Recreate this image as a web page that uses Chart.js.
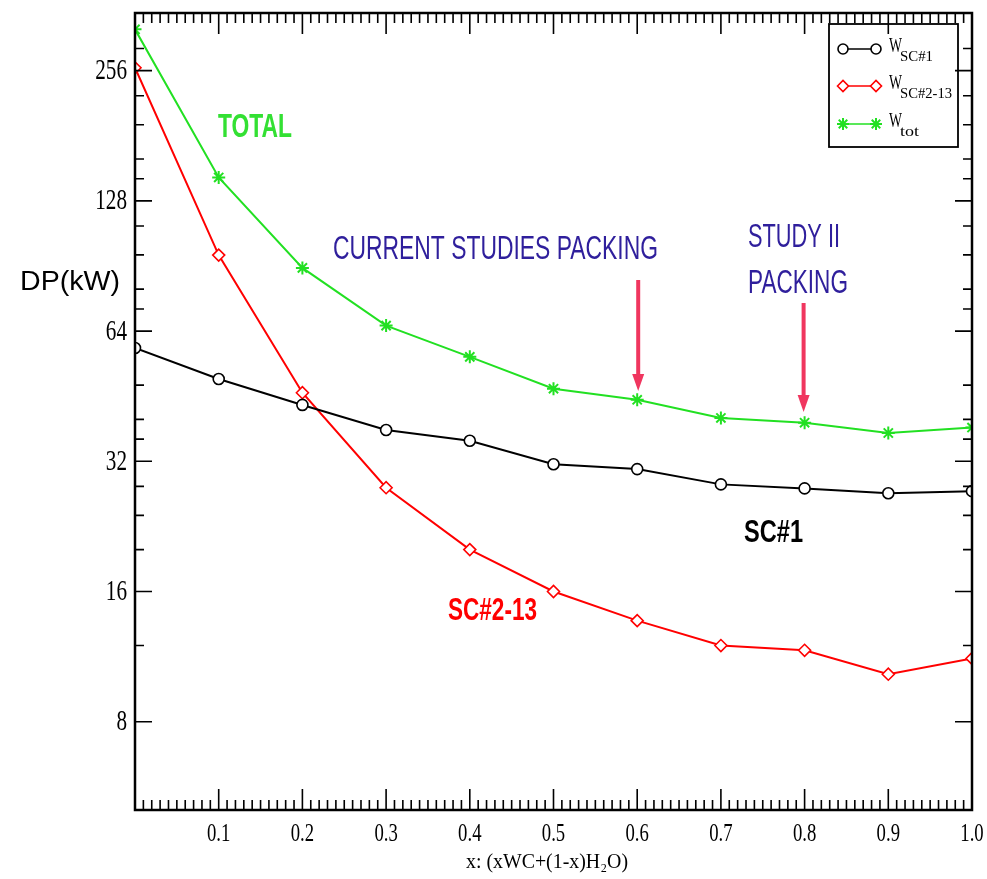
<!DOCTYPE html>
<html>
<head>
<meta charset="utf-8">
<script src="https://cdn.jsdelivr.net/npm/chart.js@4.4.0/dist/chart.umd.min.js"></script>
<style>
  html, body { margin: 0; padding: 0; background: #fff; }
  canvas { display: block; }
</style>
</head>
<body>
<canvas id="dp" width="987" height="879"></canvas>
<script>
// values
const xValues = [0, 0.1, 0.2, 0.3, 0.4, 0.5, 0.6, 0.7, 0.8, 0.9, 1.0];
const sc1 = [58.5, 49.6, 43.2, 37.8, 35.7, 31.5, 30.7, 28.3, 27.7, 27.0, 27.3];
const sc213 = [260, 95.9, 46.1, 27.8, 20.0, 16.0, 13.7, 12.0, 11.7, 10.3, 11.2];
const total = [319, 145, 89.6, 65.9, 55.8, 47.1, 44.4, 40.3, 39.3, 37.2, 38.3];

const yMajor = [8, 16, 32, 64, 128, 256];
const yMinor = [12, 20, 24, 28, 36, 40, 48, 72, 80, 96, 112, 144, 160, 192, 224, 288];
const yTickLabels = ['8', '16', '32', '64', '128', '256'];
const xTickLabels = ['0.1', '0.2', '0.3', '0.4', '0.5', '0.6', '0.7', '0.8', '0.9', '1.0'];

const legendNames = [['W', 'SC#1'], ['W', 'SC#2-13'], ['W', 'tot']];

const pts = arr => arr.map((v, i) => ({ x: xValues[i], y: v }));

// text squeezed horizontally to a given width (the picture is narrow)
function fitText(ctx, txt, x, y, font, color, w, align) {
  ctx.save();
  ctx.font = font;
  ctx.fillStyle = color;
  ctx.textBaseline = 'middle';
  ctx.textAlign = align || 'left';
  const nat = ctx.measureText(txt).width;
  ctx.translate(x, y);
  ctx.scale(w / nat, 1);
  ctx.fillText(txt, 0, 0);
  ctx.restore();
}
function sqText(ctx, txt, x, y, font, k, align) {
  ctx.save();
  ctx.font = font;
  ctx.fillStyle = '#000';
  ctx.textBaseline = 'middle';
  ctx.textAlign = align;
  ctx.translate(x, y);
  ctx.scale(k, 1);
  ctx.fillText(txt, 0, 0);
  ctx.restore();
}

const frame = {
  id: 'frame',
  afterDraw(chart) {
    const ctx = chart.ctx, a = chart.chartArea;
    const xs = chart.scales.x, ys = chart.scales.y;
    ctx.save();
    ctx.strokeStyle = '#000';
    ctx.lineWidth = 1.6;
    ctx.beginPath();
    xs.ticks.forEach(t => {
      const px = xs.getPixelForValue(t.value);
      const len = Math.round(t.value * 100) % 10 === 0 ? 21 : 10;
      ctx.moveTo(px, a.bottom); ctx.lineTo(px, a.bottom - len);
      ctx.moveTo(px, a.top); ctx.lineTo(px, a.top + len);
    });
    ys.ticks.forEach(t => {
      const py = ys.getPixelForValue(t.value);
      const len = yMajor.includes(t.value) ? 17 : 9;
      ctx.moveTo(a.left, py); ctx.lineTo(a.left + len, py);
      ctx.moveTo(a.right, py); ctx.lineTo(a.right - len, py);
    });
    ctx.stroke();
    ctx.lineWidth = 2.5;
    ctx.strokeRect(a.left, a.top, a.right - a.left, a.bottom - a.top);
    ctx.restore();

    // tick labels
    yMajor.forEach((v, i) => {
      sqText(ctx, yTickLabels[i], a.left - 8, ys.getPixelForValue(v) + 1, '29px "Liberation Serif"', 0.73, 'right');
    });
    xTickLabels.forEach((lab, i) => {
      sqText(ctx, lab, xs.getPixelForValue(xValues[i + 1]), 834, '26px "Liberation Serif"', 0.72, 'center');
    });
    fitText(ctx, 'x: (xWC+(1-x)H\u2082O)', 547, 862, '21px "Liberation Serif"', '#000', 162, 'center');
    fitText(ctx, 'DP(kW)', 20, 282, '28px "Liberation Sans"', '#000', 100);

    // annotations
    fitText(ctx, 'TOTAL', 218, 128, 'bold 33px "Liberation Sans"', '#33e033', 74);
    fitText(ctx, 'CURRENT STUDIES PACKING', 333, 250, '33px "Liberation Sans"', '#2f1f9c', 325);
    fitText(ctx, 'STUDY II', 748, 238, '33px "Liberation Sans"', '#2f1f9c', 92);
    fitText(ctx, 'PACKING', 748, 284, '33px "Liberation Sans"', '#2f1f9c', 100);
    fitText(ctx, 'SC#1', 744, 533, 'bold 31px "Liberation Sans"', '#000', 59);
    fitText(ctx, 'SC#2-13', 448, 611, 'bold 31px "Liberation Sans"', '#ff0000', 89);

    // arrows
    const arrow = (x, y0, y1) => {
      ctx.save();
      ctx.strokeStyle = '#f0365f';
      ctx.fillStyle = '#f0365f';
      ctx.lineWidth = 4;
      ctx.beginPath(); ctx.moveTo(x, y0); ctx.lineTo(x, y1 - 16); ctx.stroke();
      ctx.beginPath();
      ctx.moveTo(x - 6, y1 - 17); ctx.lineTo(x + 6, y1 - 17); ctx.lineTo(x, y1);
      ctx.closePath(); ctx.fill();
      ctx.restore();
    };
    arrow(xs.getPixelForValue(0.6) + 1, 280, 391);
    arrow(xs.getPixelForValue(0.8) - 1, 303, 412);

    // legend box
    ctx.save();
    ctx.strokeStyle = '#000';
    ctx.lineWidth = 1.8;
    ctx.strokeRect(829, 24, 129, 123);
    const rows = [49, 86, 124];
    chart.data.datasets.forEach((ds, i) => {
      const y = rows[i];
      ctx.strokeStyle = ds.borderColor;
      ctx.lineWidth = 1.5;
      ctx.beginPath(); ctx.moveTo(843, y); ctx.lineTo(876, y); ctx.stroke();
      ctx.fillStyle = '#fff';
      ctx.lineWidth = ds.pointBorderWidth;
      [843, 876].forEach(px => Chart.helpers.drawPoint(ctx, {
        pointStyle: ds.pointStyle, radius: ds.pointRadius - 0.5, rotation: 0, borderWidth: ds.pointBorderWidth
      }, px, y));
      fitText(ctx, legendNames[i][0], 889, y - 3, '21px "Liberation Serif"', '#000', 13);
    });
    ctx.restore();
    fitText(ctx, legendNames[0][1], 900, 57, '15px "Liberation Serif"', '#000', 33);
    fitText(ctx, legendNames[1][1], 900, 94, '15px "Liberation Serif"', '#000', 52);
    fitText(ctx, legendNames[2][1], 900, 132, '15px "Liberation Serif"', '#000', 19);
  }
};

new Chart(document.getElementById('dp'), {
  type: 'line',
  data: {
    datasets: [
      {
        label: 'W SC#1',
        data: pts(sc1),
        borderColor: '#000000',
        pointStyle: 'circle',
        pointRadius: 5.5,
        pointBackgroundColor: '#ffffff',
        pointBorderColor: '#000000',
        pointBorderWidth: 1.6,
        borderWidth: 2
      },
      {
        label: 'W SC#2-13',
        data: pts(sc213),
        borderColor: '#ff0000',
        pointStyle: 'rectRot',
        pointRadius: 6,
        pointBackgroundColor: '#ffffff',
        pointBorderColor: '#ff0000',
        pointBorderWidth: 1.6,
        borderWidth: 2
      },
      {
        label: 'W tot',
        data: pts(total),
        borderColor: '#22e022',
        pointStyle: 'star',
        pointRadius: 6.5,
        pointBackgroundColor: '#22e022',
        pointBorderColor: '#22e022',
        pointBorderWidth: 2,
        borderWidth: 2
      }
    ]
  },
  options: {
    responsive: false,
    animation: false,
    layout: { padding: { top: 13, right: 15, left: 0, bottom: 0 } },
    plugins: { legend: { display: false }, tooltip: { enabled: false } },
    scales: {
      x: {
        type: 'linear',
        min: 0,
        max: 1.0,
        grid: { display: false },
        border: { display: false },
        ticks: { display: false },
        afterBuildTicks: s => {
          const t = [];
          for (let i = 0; i <= 100; i++) t.push({ value: i / 100 });
          s.ticks = t;
        },
        afterFit: s => { s.height = 69; }
      },
      y: {
        type: 'logarithmic',
        min: 5,
        max: 348,
        grid: { display: false },
        border: { display: false },
        ticks: { display: false },
        afterBuildTicks: s => {
          s.ticks = yMajor.concat(yMinor).sort((a, b) => a - b).map(v => ({ value: v }));
        },
        afterFit: s => { s.width = 135; }
      }
    }
  },
  plugins: [frame]
});
</script>
</body>
</html>
